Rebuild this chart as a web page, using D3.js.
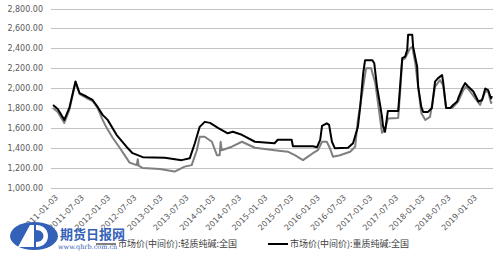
<!DOCTYPE html>
<html>
<head>
<meta charset="utf-8">
<script src="https://cdn.jsdelivr.net/npm/d3@7"></script>
<style>
  body { margin: 0; background: #fff; }
  svg { display: block; }
</style>
</head>
<body>
<svg id="chart"></svg>
<script>
// heavy soda ash (black line)
const heavyDates = ['2011-01-03','2011-02-05','2011-03-23','2011-04-27','2011-06-09','2011-07-07','2011-08-24','2011-10-06','2011-11-10','2011-12-15',
  '2012-01-19','2012-03-21','2012-05-29','2012-07-11','2012-09-20','2013-02-21','2013-06-18','2013-08-14','2013-09-18','2013-10-22',
  '2013-11-26','2014-01-02','2014-02-26','2014-05-05','2014-06-10','2014-08-12','2014-11-11','2015-03-28','2015-04-19','2015-07-25',
  '2015-08-03','2015-12-20','2016-01-18','2016-02-09','2016-02-22','2016-03-26','2016-04-11','2016-05-01','2016-05-21','2016-08-21',
  '2016-09-25','2016-10-29','2016-11-14','2016-12-05','2016-12-18','2017-02-07','2017-02-20','2017-03-11','2017-04-02','2017-04-15',
  '2017-04-22','2017-05-06','2017-05-26','2017-08-06','2017-08-19','2017-09-03','2017-09-23','2017-10-08','2017-10-14','2017-11-12',
  '2017-11-18','2017-12-16','2017-12-23','2018-01-14','2018-01-27','2018-03-02','2018-03-29','2018-04-20','2018-05-11','2018-06-08',
  '2018-06-15','2018-07-06','2018-08-04','2018-08-24','2018-09-21','2018-09-28','2018-10-26','2018-11-16','2018-12-07','2019-01-12',
  '2019-02-16','2019-03-14','2019-04-05','2019-04-25','2019-05-15','2019-05-22'];
const heavyValues = [1830,1790,1680,1800,2065,1950,1915,1880,1810,1730,
  1680,1530,1410,1345,1305,1300,1275,1295,1445,1610,
  1660,1650,1600,1545,1560,1530,1460,1445,1480,1480,
  1415,1415,1405,1480,1620,1645,1630,1460,1395,1400,
  1445,1610,1810,2150,2280,2280,2250,2015,1830,1710,
  1620,1560,1770,1770,2015,2300,2315,2385,2535,2535,
  2415,2215,2015,1810,1760,1760,1800,2065,2100,2130,
  2065,1800,1800,1830,1865,1895,1995,2050,2015,1965,
  1865,1880,1995,1980,1895,1920];

// light soda ash (grey line)
const lightDates = ['2011-01-03','2011-02-05','2011-03-23','2011-04-27','2011-06-09','2011-07-07','2011-08-24','2011-10-06','2011-11-10','2011-12-15',
  '2012-01-12','2012-02-23','2012-04-12','2012-06-20','2012-08-09','2012-08-16','2012-08-22','2012-09-20','2013-01-17','2013-04-30',
  '2013-07-09','2013-08-27','2013-10-02','2013-10-22','2013-11-26','2014-01-15','2014-02-19','2014-03-10','2014-03-17','2014-03-24',
  '2014-06-03','2014-08-12','2014-11-11','2015-03-28','2015-06-28','2015-08-16','2015-10-12','2015-11-16','2015-12-20','2016-01-24',
  '2016-02-22','2016-03-26','2016-04-17','2016-05-08','2016-06-26','2016-09-05','2016-10-10','2016-10-29','2016-12-05','2016-12-25',
  '2017-01-29','2017-02-27','2017-03-18','2017-04-15','2017-05-06','2017-05-26','2017-08-06','2017-08-19','2017-09-03','2017-09-23',
  '2017-10-28','2017-11-12','2017-12-03','2017-12-23','2018-01-14','2018-02-11','2018-03-16','2018-04-20','2018-05-24','2018-06-15',
  '2018-07-06','2018-08-17','2018-09-28','2018-11-03','2018-11-23','2018-12-21','2019-01-25','2019-02-28','2019-04-05','2019-04-25',
  '2019-05-15','2019-05-22'];
const lightValues = [1800,1760,1650,1780,2060,1940,1900,1870,1800,1680,
  1600,1500,1400,1250,1225,1285,1220,1195,1185,1160,
  1210,1225,1375,1510,1510,1460,1325,1325,1460,1375,
  1410,1460,1400,1375,1360,1325,1275,1310,1345,1375,
  1460,1460,1395,1310,1325,1360,1410,1680,2015,2200,
  2200,2050,1850,1550,1580,1695,1700,1950,2280,2300,
  2400,2415,2250,2015,1750,1680,1710,2015,2080,2030,
  1800,1800,1865,1980,2015,1965,1895,1830,1965,1965,
  1850,1860];

const yTicks = [1000,1200,1400,1600,1800,2000,2200,2400,2600,2800];
const xTickLabels = ['2011-01-03','2011-07-03','2012-01-03','2012-07-03','2013-01-03','2013-07-03','2014-01-03','2014-07-03','2015-01-03',
  '2015-07-03','2016-01-03','2016-07-03','2017-01-03','2017-07-03','2018-01-03','2018-07-03','2019-01-03'];
const seriesNames = ['市场价(中间价):轻质纯碱:全国', '市场价(中间价):重质纯碱:全国'];
const seriesColors = ['#7f7f7f', '#000000'];

const width = 500, height = 256;
const parse = d3.timeParse('%Y-%m-%d');

const svg = d3.select('#chart')
    .attr('width', width)
    .attr('height', height)
    .style('font-family', '"DejaVu Sans", sans-serif');

const x = d3.scaleTime()
    .domain([parse('2011-01-03'), parse('2019-05-22')])
    .range([53, 492]);

const y = d3.scaleLinear()
    .domain([1000, 2800])
    .range([187.5, 8.5]);

// gridlines
svg.append('g')
    .selectAll('line')
    .data(yTicks)
    .join('line')
    .attr('x1', 51)
    .attr('x2', 493)
    .attr('y1', d => Math.round(y(d)) + 0.5)
    .attr('y2', d => Math.round(y(d)) + 0.5)
    .attr('stroke', '#c3c3c3')
    .attr('stroke-width', 1);

// y axis labels
const yAxis = d3.axisLeft(y)
    .tickValues(yTicks)
    .tickFormat(d3.format(',.2f'))
    .tickSize(0)
    .tickPadding(8);

svg.append('g')
    .attr('transform', 'translate(51,0)')
    .call(yAxis)
    .call(g => g.select('.domain').remove())
    .selectAll('text')
    .attr('font-size', 8)
    .attr('font-family', '"DejaVu Sans", sans-serif')
    .attr('fill', '#595959');

// x axis labels
const xAxis = d3.axisBottom(x)
    .tickValues(xTickLabels.map(parse))
    .tickFormat(d3.timeFormat('%Y-%m-%d'))
    .tickSize(0);

svg.append('g')
    .attr('transform', 'translate(0,188)')
    .call(xAxis)
    .call(g => g.select('.domain').remove())
    .selectAll('text')
    .attr('font-size', 8)
    .attr('font-family', '"DejaVu Sans", sans-serif')
    .attr('fill', '#595959')
    .attr('text-anchor', 'end')
    .attr('dy', 0)
    .attr('transform', 'translate(3,8) rotate(-45)');

// lines
const line = d3.line()
    .x(d => x(d.date))
    .y(d => y(d.value));

const lightData = lightDates.map((d, i) => ({ date: parse(d), value: lightValues[i] }));
const heavyData = heavyDates.map((d, i) => ({ date: parse(d), value: heavyValues[i] }));

svg.append('path')
    .datum(lightData)
    .attr('fill', 'none')
    .attr('stroke', seriesColors[0])
    .attr('stroke-width', 2)
    .attr('stroke-linejoin', 'round')
    .attr('d', line);

svg.append('path')
    .datum(heavyData)
    .attr('fill', 'none')
    .attr('stroke', seriesColors[1])
    .attr('stroke-width', 2)
    .attr('stroke-linejoin', 'round')
    .attr('d', line);

// legend
const legend = svg.append('g')
    .attr('font-family', '"Noto Sans CJK SC", sans-serif')
    .attr('font-size', 9)
    .attr('fill', '#404040');

const legendX = [96, 268];
seriesNames.forEach((name, i) => {
    const g = legend.append('g').attr('transform', `translate(${legendX[i]},244)`);
    g.append('line')
        .attr('x1', 0).attr('x2', 20)
        .attr('stroke', seriesColors[i])
        .attr('stroke-width', 2);
    g.append('text')
        .attr('x', 22)
        .attr('dy', '0.35em')
        .text(name);
});

// watermark logo
const logo = svg.append('g');
logo.append('ellipse')
    .attr('cx', 34).attr('cy', 236)
    .attr('rx', 24).attr('ry', 14)
    .attr('fill', '#3461b8');
logo.append('path')
    .attr('d', 'M18,247 L30,225 L34,225 L34,247 Z M24,240 L34,240')
    .attr('fill', '#fff');
logo.append('path')
    .attr('d', 'M36,225 C52,225 52,247 36,247 L36,242 C46,242 46,230 36,230 Z')
    .attr('fill', '#fff');
logo.append('text')
    .attr('x', 60).attr('y', 239)
    .attr('font-family', '"Noto Sans CJK SC", sans-serif')
    .attr('font-weight', 'bold')
    .attr('font-size', 13)
    .attr('fill', '#3461b8')
    .text('期货日报网');
logo.append('text')
    .attr('x', 58).attr('y', 249)
    .attr('font-family', '"DejaVu Serif", serif')
    .attr('font-size', 6.5)
    .attr('fill', '#3461b8')
    .text('www.qhrb.com.cn');
</script>
</body>
</html>
